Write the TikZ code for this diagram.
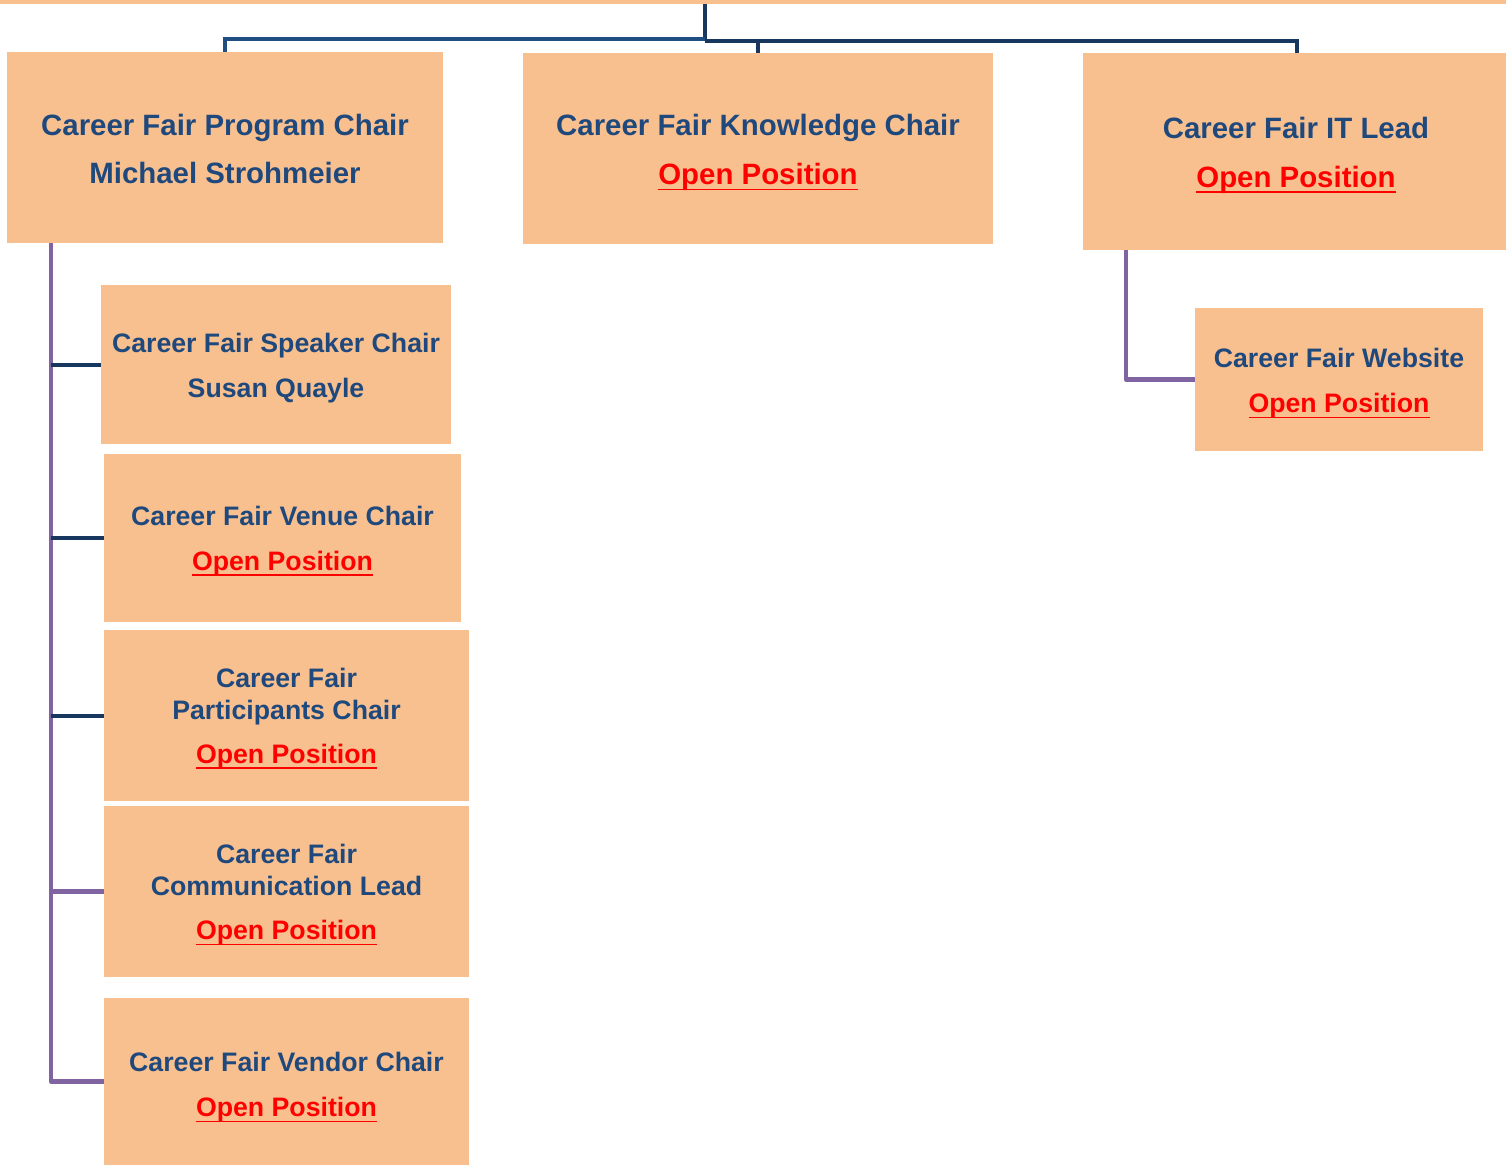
\documentclass[tikz,border=0pt]{standalone}
\usepackage{fontspec}
\setmainfont{Liberation Sans}
\definecolor{boxfill}{HTML}{F9C08F}
\definecolor{textblue}{HTML}{1F497D}
\definecolor{openred}{HTML}{FF0000}
\definecolor{navyline}{HTML}{17375E}
\definecolor{blueline}{HTML}{1F4E80}
\definecolor{purpleline}{HTML}{8064A2}
\newcommand\openpos{{\color{openred}\setbox0\hbox{Open Position}\rlap{\rule[-0.2em]{\wd0}{0.065em}}\box0}}
\begin{document}
\begin{tikzpicture}[x=1pt,y=-1pt,
  box/.style={fill=boxfill, inner sep=0pt},
  txt/.style={inner sep=0pt, align=center, text=textblue},
  big/.style={font=\fontsize{29.4}{34}\selectfont\bfseries},
  small/.style={font=\fontsize{26.7}{32}\selectfont\bfseries},
  topwire/.style={line width=3.5pt, navyline},
  leftwire/.style={line width=4pt, blueline},
  navywire/.style={line width=4pt, navyline},
  purplewire/.style={line width=4.5pt, purpleline, line join=round}]
\useasboundingbox (0,0) rectangle (1506,1166);
% top bar
\node (topbar) [fill=boxfill, inner sep=0pt, minimum width=1506pt, minimum height=4pt, anchor=north west] at (0,0) {};
% boxes
\node (prog) [box, minimum width=436pt, minimum height=191pt] at (225,147.5) {};
\node (know) [box, minimum width=470pt, minimum height=191pt] at (758,148.5) {};
\node (it) [box, minimum width=423pt, minimum height=197pt] at (1294.5,151.5) {};
\node (web) [box, minimum width=288pt, minimum height=143pt] at (1339,379.5) {};
\node (speaker) [box, minimum width=350pt, minimum height=159pt] at (276,364.5) {};
\node (venue) [box, minimum width=357pt, minimum height=168pt] at (282.5,538) {};
\node (part) [box, minimum width=365pt, minimum height=171pt] at (286.5,715.5) {};
\node (comm) [box, minimum width=365pt, minimum height=171pt] at (286.5,891.5) {};
\node (vendor) [box, minimum width=365pt, minimum height=167pt] at (286.5,1081.5) {};
% texts
\node (progT) [txt, big] at ([yshift=-1pt]prog.center)
  {Career Fair Program Chair\\[14pt]Michael Strohmeier};
\node (knowT) [txt, big] at ([yshift=-4pt]know.center)
  {Career Fair Knowledge Chair\\[15pt]\openpos};
\node (itT) [txt, big] at ([xshift=1.5pt,yshift=-3.5pt]it.center)
  {Career Fair IT Lead\\[15pt]\openpos};
\node (webT) [txt, small] at ([yshift=-4pt]web.center)
  {Career Fair Website\\[13pt]\openpos};
\node (speakerT) [txt, small] at ([yshift=-4pt]speaker.center)
  {Career Fair Speaker Chair\\[13pt]Susan Quayle};
\node (venueT) [txt, small] at ([yshift=-3pt]venue.center)
  {Career Fair Venue Chair\\[13pt]\openpos};
\node (partT) [txt, small] at ([yshift=-3pt]part.center)
  {Career Fair\\Participants Chair\\[12pt]\openpos};
\node (commT) [txt, small] at ([yshift=-3.5pt]comm.center)
  {Career Fair\\Communication Lead\\[12pt]\openpos};
\node (vendorT) [txt, small] at ([yshift=-6pt]vendor.center)
  {Career Fair Vendor Chair\\[13pt]\openpos};
% top connectors
\coordinate (hubL) at (705,39);
\coordinate (hubR) at (705,41);
\draw[topwire] (topbar.south -| hubR) -- (hubR);
\draw[leftwire] (hubL) -| (prog.north);
\draw[topwire] (hubR) -| ([xshift=2.5pt]it.north);
\draw[topwire] (hubR -| know.north) -- (know.north);
% left spine
\coordinate (sp) at (51,0);
\draw[purplewire] (prog.south -| sp) -- (vendor.west -| sp) -- (vendor.west);
\draw[navywire] (speaker.west -| sp) -- (speaker.west);
\draw[navywire] (venue.west -| sp) -- (venue.west);
\draw[navywire] (part.west -| sp) -- (part.west);
\draw[purplewire] (comm.west -| sp) -- (comm.west);
% IT branch
\coordinate (itsp) at (1126,0);
\draw[purplewire] (it.south -| itsp) -- (web.west -| itsp) -- (web.west);
\end{tikzpicture}
\end{document}
